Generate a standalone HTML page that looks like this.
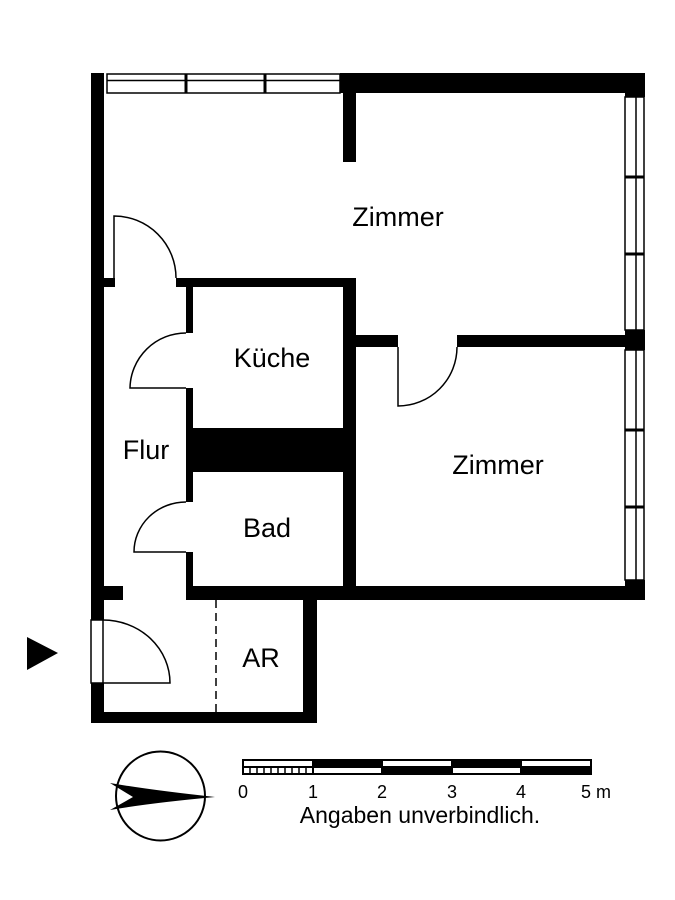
<!DOCTYPE html>
<html><head><meta charset="utf-8"><style>
html,body{margin:0;padding:0;background:#fff;}
svg{display:block;}
text{font-family:"Liberation Sans",Arial,sans-serif;fill:#000;}
</style></head><body>
<svg width="675" height="900" viewBox="0 0 675 900" xmlns="http://www.w3.org/2000/svg">
<rect width="675" height="900" fill="#fff"/>
<g fill="#000">
<rect x="91" y="73" width="13" height="547"/>
<rect x="91" y="683" width="13" height="40"/>
<rect x="340" y="73" width="305" height="20"/>
<rect x="625" y="73" width="20" height="24"/>
<rect x="343" y="93" width="13" height="69"/>
<rect x="625" y="330" width="20" height="20"/>
<rect x="625" y="580" width="20" height="20"/>
<rect x="343" y="586" width="302" height="14"/>
<rect x="343" y="279" width="13" height="321"/>
<rect x="356" y="335" width="42" height="12"/>
<rect x="457" y="335" width="168" height="12"/>
<rect x="176" y="278" width="180" height="9"/>
<rect x="104" y="278" width="11" height="9"/>
<rect x="186" y="278" width="7" height="55"/>
<rect x="186" y="388" width="7" height="114"/>
<rect x="186" y="552" width="7" height="48"/>
<rect x="186" y="428" width="160" height="44"/>
<rect x="186" y="586" width="170" height="14"/>
<rect x="104" y="586" width="19" height="14"/>
<rect x="303" y="600" width="14" height="123"/>
<rect x="91" y="712" width="226" height="11"/>
<polygon points="27,637 27,670 58,653"/>
</g>
<g fill="none" stroke="#000" stroke-width="1.5">
<rect x="107" y="74" width="233" height="19"/>
<line x1="107" y1="80.5" x2="340" y2="80.5"/>
<line x1="186" y1="74" x2="186" y2="93" stroke-width="3"/>
<line x1="265" y1="74" x2="265" y2="93" stroke-width="3"/>
<rect x="625" y="97" width="19" height="233"/>
<line x1="636" y1="97" x2="636" y2="330"/>
<line x1="625" y1="177" x2="644" y2="177" stroke-width="3"/>
<line x1="625" y1="254" x2="644" y2="254" stroke-width="3"/>
<rect x="625" y="350" width="19" height="230"/>
<line x1="636" y1="350" x2="636" y2="580"/>
<line x1="625" y1="430" x2="644" y2="430" stroke-width="3"/>
<line x1="625" y1="507" x2="644" y2="507" stroke-width="3"/>
<path d="M114,278 L114,216 A62,62 0 0 1 176,278"/>
<path d="M186,388 L130,388 A56,56 0 0 1 186,333"/>
<path d="M186,552 L134,552 A52,50 0 0 1 186,502"/>
<path d="M398,347 L398,406 A59,59 0 0 0 457,347"/>
<rect x="91" y="620" width="12" height="63"/>
<path d="M103,683 L170,683 A67,63 0 0 0 103,620"/>
<line x1="216" y1="600" x2="216" y2="712" stroke-dasharray="8,5"/>
<circle cx="160.5" cy="796" r="44.5" stroke-width="2"/>
</g>
<path d="M110,783 Q150,790 215,797 Q150,803 110,810 L133,797 Z" fill="#000"/>
<g stroke="#000" stroke-width="2">
<rect x="243" y="760" width="348" height="14" fill="#fff"/>
<rect x="313" y="760" width="69" height="7" fill="#000"/>
<rect x="452" y="760" width="69" height="7" fill="#000"/>
<rect x="382" y="767" width="70" height="7" fill="#000"/>
<rect x="521" y="767" width="70" height="7" fill="#000"/>
<line x1="243" y1="767" x2="591" y2="767"/>
<line x1="313" y1="760" x2="313" y2="774"/>
<path d="M250,767v7M257,767v7M264,767v7M271,767v7M278,767v7M285,767v7M292,767v7M299,767v7M306,767v7" stroke-width="1.5"/>
</g>
<g font-size="18" text-anchor="middle">
<text x="243" y="798">0</text>
<text x="313" y="798">1</text>
<text x="382" y="798">2</text>
<text x="452" y="798">3</text>
<text x="521" y="798">4</text>
<text x="596" y="798">5 m</text>
</g>
<text x="420" y="823" font-size="23" text-anchor="middle">Angaben unverbindlich.</text>
<g font-size="27" text-anchor="middle">
<text x="398" y="226">Zimmer</text>
<text x="272" y="367">Küche</text>
<text x="146" y="459">Flur</text>
<text x="267" y="537">Bad</text>
<text x="498" y="474">Zimmer</text>
<text x="261" y="667">AR</text>
</g>
</svg>
</body></html>
